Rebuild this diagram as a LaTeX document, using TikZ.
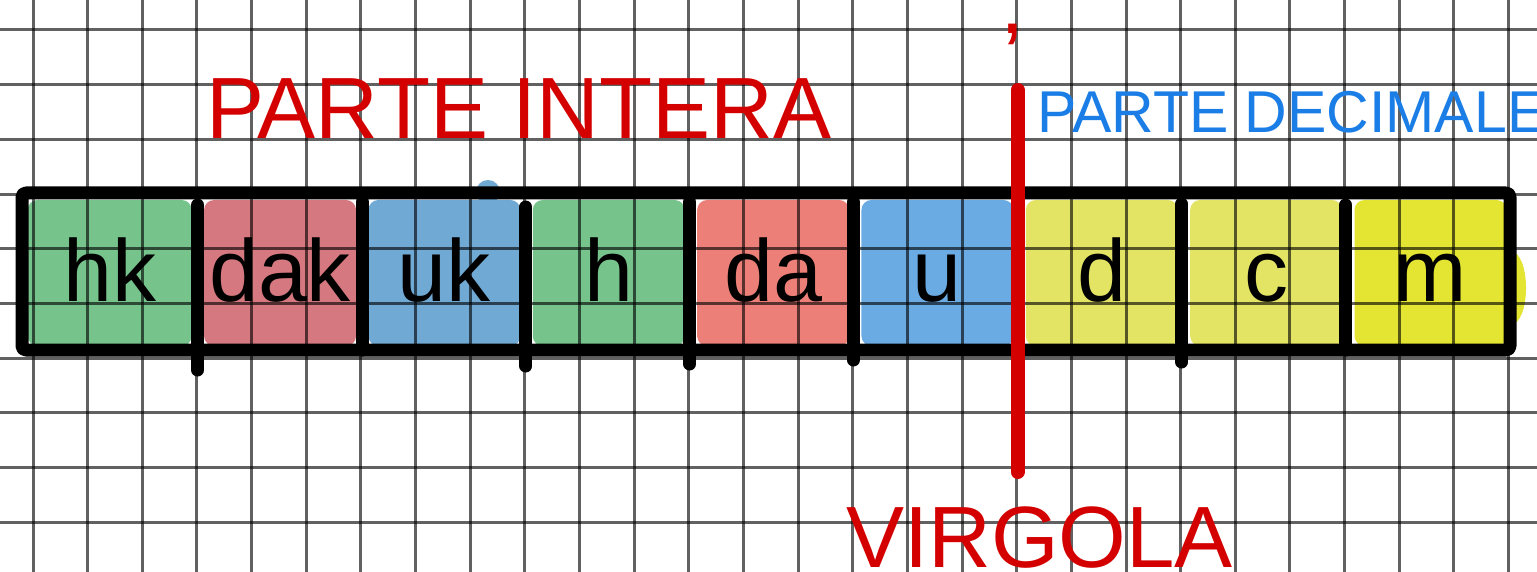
\documentclass[tikz,border=0pt]{standalone}
\usepackage{fontspec}
\setmainfont{Liberation Sans}
\usepackage{tikz}
\usetikzlibrary{positioning}
\usepackage{xcolor}
\definecolor{intred}{HTML}{D40000}
\definecolor{decblue}{HTML}{1A7EE6}
\definecolor{cellgreen}{HTML}{76C48C}
\definecolor{cellrose}{HTML}{D6787F}
\definecolor{cellsalmon}{HTML}{EC8078}
\definecolor{cellblue}{HTML}{70A9D4}
\definecolor{cellsky}{HTML}{6AABE3}
\definecolor{cellyellow}{HTML}{E4E464}
\definecolor{celllemon}{HTML}{E4E432}
\tikzset{
  placebox/.style={
    rectangle,
    rounded corners=10pt,
    fill=#1,
    inner sep=0pt,
    minimum width=152pt,
    minimum height=146pt,
    text height=66pt,
    text depth=8.8pt,
    font=\fontsize{88}{96}\selectfont
  },
  placewide/.style={placebox=#1, minimum width=164pt},
  gridline/.style={line width=3pt, draw=black, draw opacity=0.62},
  tableline/.style={line width=13pt, draw=black, line cap=round, line join=round},
  commaline/.style={line width=14pt, draw=intred, line cap=round},
  bigtitle/.style={anchor=base west, inner sep=0pt, font=\fontsize{87}{92}\selectfont}
}
\begin{document}
\begin{tikzpicture}[x=1pt, y=-1pt, node distance=11.95pt]
\fill[white] (0,0) rectangle (1537,572);
\useasboundingbox (0,0) rectangle (1537,572);
\clip (0,0) rectangle (1537,572);
\fill[cellblue] (488,192) circle [radius=12];
\fill[celllemon] (1512,288) ellipse [x radius=14, y radius=36];
\node[placewide=cellgreen] (hk) at (109.7,273) {hk};
\node[placebox=cellrose, right=of hk] (dak) {dak};
\node[placebox=cellblue, right=of dak] (uk) {uk};
\node[placebox=cellgreen, right=of uk] (h) {h};
\node[placebox=cellsalmon, right=of h] (da) {da};
\node[placebox=cellsky, right=of da] (u) {u};
\node[placebox=cellyellow, right=of u] (d) {d};
\node[placebox=cellyellow, right=of d] (c) {c};
\node[placebox=celllemon, right=of c] (m) {m};
\foreach \k in {0,...,27}
  \draw[gridline] ({33+54.65*\k},0) -- ({33+54.65*\k},572);
\foreach \k in {0,...,10}
  \draw[gridline] (0,{30+54.7*\k}) -- (1537,{30+54.7*\k});
\draw[tableline, rounded corners=4pt] (22,193) rectangle (1510,350);
\draw[tableline] (197.6,205) -- (197.6,370);
\draw[tableline] (362.3,202) -- (362.3,350);
\draw[tableline] (525.9,207) -- (525.9,366);
\draw[tableline] (689.6,202) -- (689.6,364);
\draw[tableline] (853.4,202) -- (853.4,360);
\draw[tableline] (1181.7,204) -- (1181.7,362);
\draw[tableline] (1345.6,205) -- (1345.6,350);
\draw[commaline] (1017.5,90) -- (1017.5,472);
\node[anchor=base, inner sep=0pt, text height=8pt, text depth=18pt, text=intred, font=\fontsize{88}{96}\selectfont] (comma) at (1013,34) {,};
\node[bigtitle, text=intred] (intera) at (206,138.5) {PARTE INTERA};
\node[bigtitle, text=decblue, font=\fontsize{59}{62}\selectfont] (decimale) at (1037,133) {PARTE DECIMALE};
\node[bigtitle, text=intred] (virgola) at (846,567) {VIRGOLA};
\end{tikzpicture}
\end{document}
